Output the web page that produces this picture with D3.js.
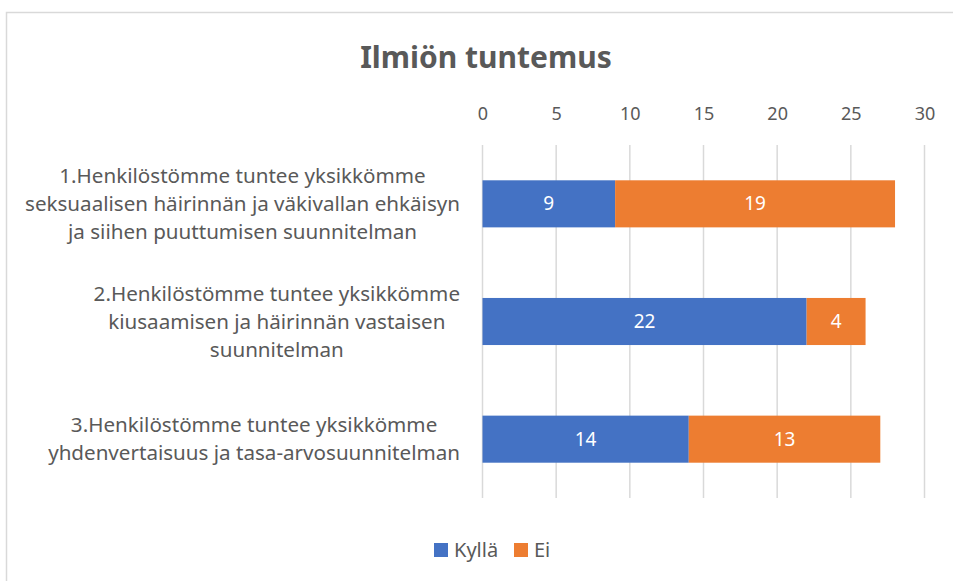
<!DOCTYPE html>
<html>
<head>
<meta charset="utf-8">
<script src="https://cdn.jsdelivr.net/npm/d3@7"></script>
<style>
  body { margin: 0; background: #fff; }
  text { font-family: "Noto Sans", "Open Sans", sans-serif; }
</style>
</head>
<body>
<svg id="chart" width="953" height="581"></svg>
<script>
// kategoriat (rivitettynä kuten alkuperäisessä)
const categories = [
  ["1.Henkilöstömme tuntee yksikkömme", "seksuaalisen häirinnän ja väkivallan ehkäisyn", "ja siihen puuttumisen suunnitelman"],
  ["2.Henkilöstömme tuntee yksikkömme", "kiusaamisen ja häirinnän vastaisen", "suunnitelman"],
  ["3.Henkilöstömme tuntee yksikkömme", "yhdenvertaisuus ja tasa-arvosuunnitelman"]
];
const seriesNames = ["Kyllä", "Ei"];
const kyllaValues = [9, 22, 14];
const eiValues = [19, 4, 13];
const xTicks = [0, 5, 10, 15, 20, 25, 30];
const colors = ["#4472C4", "#ED7D31"];

const svg = d3.select("#chart");
const textColor = "#595959";

// reunus
svg.append("rect")
  .attr("x", 6.5).attr("y", 12.5)
  .attr("width", 960).attr("height", 600)
  .attr("fill", "none").attr("stroke", "#D9D9D9").attr("stroke-width", 1.5);

// otsikko
svg.append("text")
  .attr("x", 486).attr("y", 57)
  .attr("dy", "0.35em")
  .attr("text-anchor", "middle")
  .attr("fill", textColor)
  .style("font-size", "30px").style("font-weight", "bold")
  .text("Ilmiön tuntemus");

const plotLeft = 482.5, plotRight = 924.5, plotTop = 145, plotBottom = 498;

const x = d3.scaleLinear().domain([0, 30]).range([plotLeft, plotRight]);
const y = d3.scaleBand().domain(d3.range(categories.length)).range([plotTop, plotBottom])
  .paddingInner(0.6).paddingOuter(0.3);

// ruudukko
svg.append("g").selectAll("line").data(xTicks).join("line")
  .attr("x1", d => x(d)).attr("x2", d => x(d))
  .attr("y1", plotTop).attr("y2", plotBottom)
  .attr("stroke", "#D9D9D9").attr("stroke-width", 1.5);

// x-akseli ylhäällä
const axis = svg.append("g")
  .attr("transform", `translate(0,${plotTop - 25})`)
  .call(d3.axisTop(x).tickValues(xTicks).tickSize(0).tickPadding(0));
axis.select(".domain").remove();
axis.selectAll("text")
  .attr("fill", textColor)
  .style("font-size", "18px")
  .style("font-family", "'Noto Sans', sans-serif");

// pinotut palkit
const rows = categories.map((c, i) => ({ i: i, Kyllä: kyllaValues[i], Ei: eiValues[i] }));
const stacked = d3.stack().keys(seriesNames)(rows);

stacked.forEach((layer, k) => {
  const g = svg.append("g");
  g.selectAll("rect").data(layer).join("rect")
    .attr("x", d => x(d[0]))
    .attr("y", d => y(d.data.i))
    .attr("width", d => x(d[1]) - x(d[0]))
    .attr("height", y.bandwidth())
    .attr("fill", colors[k]);
  g.selectAll("text").data(layer).join("text")
    .attr("x", d => (x(d[0]) + x(d[1])) / 2)
    .attr("y", d => y(d.data.i) + y.bandwidth() / 2)
    .attr("dy", "0.35em")
    .attr("text-anchor", "middle")
    .attr("fill", "white")
    .style("font-size", "19px")
    .text(d => d[1] - d[0]);
});

// kategorioiden nimet
const lineH = 28;
categories.forEach((lines, i) => {
  const cy = y(i) + y.bandwidth() / 2;
  const g = svg.append("g");
  const t = g.selectAll("text").data(lines).join("text")
    .attr("y", (d, j) => cy + (j - (lines.length - 1) / 2) * lineH)
    .attr("dy", "0.35em")
    .attr("text-anchor", "middle")
    .attr("fill", textColor)
    .style("font-size", "20.6px")
    .text(d => d);
  let maxW = 0;
  t.each(function () { maxW = Math.max(maxW, this.getComputedTextLength()); });
  t.attr("x", 460 - maxW / 2);
});

// selite
const legend = svg.append("g").attr("transform", "translate(434,543)");
const item = legend.selectAll("g").data(seriesNames).join("g")
  .attr("transform", (d, i) => `translate(${i * 80},0)`);
item.append("rect").attr("width", 14).attr("height", 14).attr("fill", (d, i) => colors[i]);
item.append("text").attr("x", 20).attr("y", 7).attr("dy", "0.35em")
  .attr("fill", textColor).style("font-size", "20px").text(d => d);
</script>
</body>
</html>
